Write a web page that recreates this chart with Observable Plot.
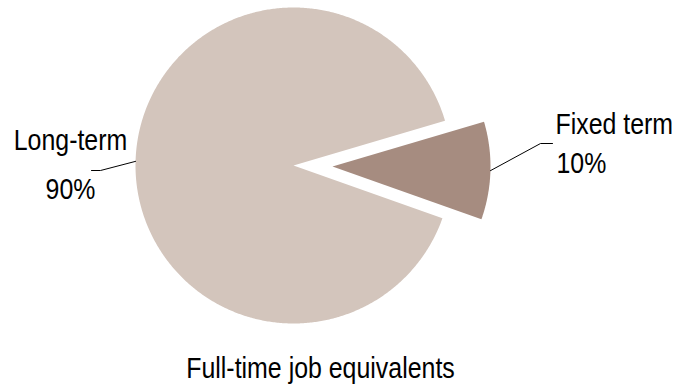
<!DOCTYPE html>
<html>
<head>
<meta charset="utf-8">
<script src="https://cdn.jsdelivr.net/npm/d3@7"></script>
<script src="https://cdn.jsdelivr.net/npm/@observablehq/plot@0.6"></script>
<style>
  html, body { margin: 0; padding: 0; background: #fff; }
  #chart { width: 674px; height: 385px; }
</style>
</head>
<body>
<div id="chart"></div>
<script>
// ---- data ----
const categories = ["Long-term", "Fixed term"];
const shares = [90, 10];
const pctLabels = ["90%", "10%"];
const colors = ["#D3C5BC", "#A68C80"];
const title = "Full-time job equivalents";

// ---- layout constants ----
const W = 674, H = 385;
const CX = 293, CY = 165, R = 158;
const EXPLODE = [0, 39];
const START = 109.5 * Math.PI / 180; // d3.pie angle (0 = 12 o'clock, clockwise)
const FS = 30;
const NARROW = 0.83; // horizontal condensing to mimic a narrow face
const leaderLayout = [
  {elbow: [100, 170], end: [91, 170]},
  {elbow: [540, 143], end: [552, 143]}
];
const nameLayout = [
  {x: 70, y: 149, anchor: "middle"},
  {x: 555, y: 133, anchor: "start"}
];
const pctLayout = [
  {x: 70, y: 198, anchor: "middle"},
  {x: 556, y: 172, anchor: "start"}
];

const arcs = d3.pie().sort(null).startAngle(START).endAngle(START + 2 * Math.PI)(shares);

const pt = (cx, cy, r, a) => [cx + r * Math.sin(a), cy - r * Math.cos(a)];

const poly = [];
const leaders = [];
arcs.forEach((arc, i) => {
  const mid = (arc.startAngle + arc.endAngle) / 2;
  const [ox, oy] = pt(CX, CY, EXPLODE[i], mid);
  poly.push({cat: categories[i], x: ox, y: oy});
  const n = Math.max(2, Math.ceil((arc.endAngle - arc.startAngle) / (Math.PI / 360)));
  for (let k = 0; k <= n; k++) {
    const a = arc.startAngle + (arc.endAngle - arc.startAngle) * k / n;
    const [x, y] = pt(ox, oy, R, a);
    poly.push({cat: categories[i], x, y});
  }
  const [sx, sy] = pt(ox, oy, R, mid);
  const L = leaderLayout[i];
  leaders.push({cat: categories[i], x: sx, y: sy});
  leaders.push({cat: categories[i], x: L.elbow[0], y: L.elbow[1]});
  leaders.push({cat: categories[i], x: L.end[0], y: L.end[1]});
});

const nameRows = categories.map((c, i) => ({t: c, ...nameLayout[i]}));
const pctRows = pctLabels.map((p, i) => ({t: p, ...pctLayout[i]}));
const rows = [...nameRows, ...pctRows];

const chart = Plot.plot({
  width: W,
  height: H,
  margin: 0,
  style: {fontFamily: "'Liberation Sans', Arial, sans-serif", background: "#fff"},
  x: {domain: [0, W], range: [0, W], axis: null},
  y: {domain: [0, H], range: [0, H], axis: null},
  color: {domain: categories, range: colors},
  marks: [
    Plot.line(poly, {x: "x", y: "y", z: "cat", fill: "cat", stroke: "none", curve: "linear-closed"}),
    Plot.line(leaders, {x: "x", y: "y", z: "cat", stroke: "#000", strokeWidth: 1}),
    Plot.text(rows.filter(d => d.anchor === "middle"), {x: "x", y: "y", text: "t", textAnchor: "middle", lineAnchor: "bottom", fontSize: FS, fill: "#000"}),
    Plot.text(rows.filter(d => d.anchor === "start"), {x: "x", y: "y", text: "t", textAnchor: "start", lineAnchor: "bottom", fontSize: FS, fill: "#000"}),
    Plot.text([title], {frameAnchor: "bottom", dx: -17, dy: -8, lineAnchor: "bottom", fontSize: FS, fill: "#000"})
  ]
});
document.getElementById("chart").appendChild(chart);
chart.querySelectorAll("text").forEach(t => {
  if (t.querySelector("tspan")) return;
  const len = t.getComputedTextLength();
  t.setAttribute("textLength", (len * NARROW).toFixed(1));
  t.setAttribute("lengthAdjust", "spacingAndGlyphs");
});
</script>
</body>
</html>
